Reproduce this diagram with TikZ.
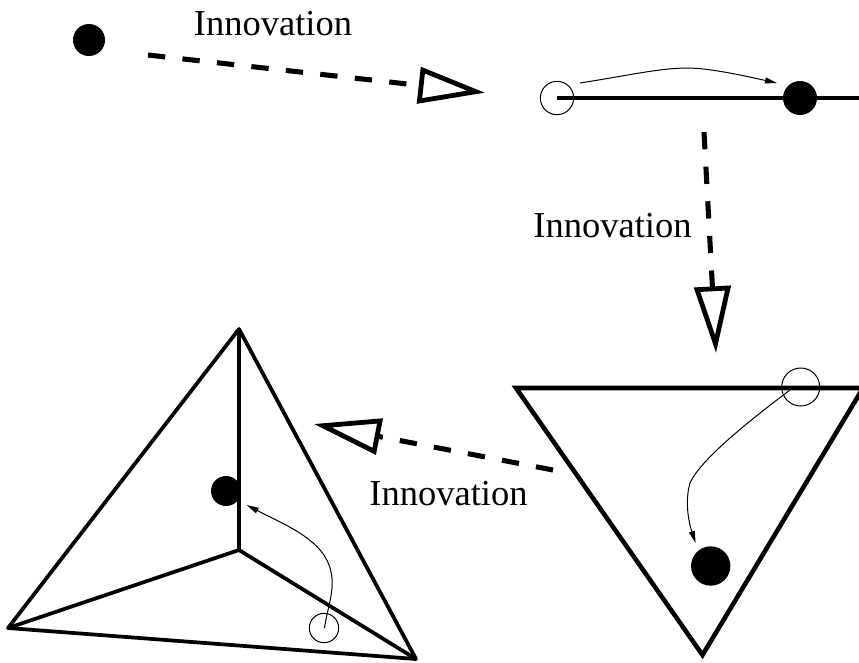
\documentclass[tikz,border=0pt]{standalone}
\usepackage{fontspec}
\setmainfont{Liberation Serif}
\usetikzlibrary{arrows.meta}
\begin{document}
\begin{tikzpicture}[
  x=0.75pt, y=-0.75pt,
  full/.style={circle, fill=black, inner sep=0pt},
  hollow/.style={circle, draw=black, line width=0.75pt, inner sep=0pt},
  edge/.style={line width=3.4pt, line join=miter},
  thin edge/.style={line width=2.8pt, line join=miter},
  inn/.style={-{Triangle[open, length=50pt, width=27pt, line width=3.6pt]}, line width=3.8pt,
              dash pattern=on 13pt off 13pt},
  flow/.style={-{Triangle[length=9pt, width=4.4pt]}, line width=0.75pt},
  lbl/.style={font=\fontsize{27.4pt}{30pt}\selectfont, inner sep=0pt}
]
\useasboundingbox (0,0) rectangle (859,662);

% first stage
\node[full, minimum size=24pt] (p0) at (89,40) {};
\coordinate (a1s) at (148,55);
\coordinate (a1e) at (485,92.7);
\draw[inn] (a1s) -- (a1e);
\node[lbl] (t1) at (273,24) {Innovation};

% second stage
\coordinate (l1) at (557,98);
\coordinate (l2) at (859,98);
\draw[edge] (l1) -- (l2);
\node[hollow, minimum size=25pt] (o1) at (557,98) {};
\node[full, minimum size=25.5pt] (p1) at (800,98) {};
\coordinate (f1s) at (580,83);
\coordinate (f1e) at (777,83);
\draw[flow] (f1s) .. controls (625,76) and (660,68) .. (687,68) .. controls (710,68) and (745,76) .. (f1e);
\coordinate (a2s) at (704,132);
\coordinate (a2e) at (716,353);
\draw[inn] (a2s) -- (a2e);
\node[lbl] (t2) at (612.5,226) {Innovation};

% third stage
\coordinate (b1) at (516,388);
\coordinate (b2) at (863,388);
\coordinate (b3) at (702.5,655);
\draw[edge] (b1) -- (b2) -- (b3) -- cycle;
\node[hollow, minimum size=28.5pt] (o2) at (800.7,387) {};
\node[full, minimum size=29.5pt] (p2) at (710.7,566) {};
\coordinate (f2s) at (790,390);
\coordinate (f2e) at (695.6,543);
\draw[flow] (f2s) .. controls (750,420) and (700,460) .. (690,483) .. controls (685,500) and (688,520) .. (f2e);
\coordinate (a3s) at (553,470);
\coordinate (a3e) at (314,424);
\draw[inn] (a3s) -- (a3e);
\node[lbl] (t3) at (448.5,494) {Innovation};

% fourth stage
\coordinate (c1) at (239,329);
\coordinate (c2) at (8,628);
\coordinate (c3) at (416,659);
\coordinate (c4) at (239,550);
\draw[thin edge, line join=round] (c1) -- (c2) -- (c3) -- cycle;
\draw[thin edge] (c4) -- (c1) (c4) -- (c2) (c4) -- (c3);
\node[full, minimum size=22.5pt] (p3) at (226,491) {};
\node[hollow, minimum size=22pt] (o3) at (324,628) {};
\coordinate (f3s) at (324.5,628);
\coordinate (f3e) at (246.7,505);
\draw[flow] (f3s) .. controls (328,605) and (335,590) .. (331,572) .. controls (325,540) and (285,525) .. (f3e);
\end{tikzpicture}
\end{document}
